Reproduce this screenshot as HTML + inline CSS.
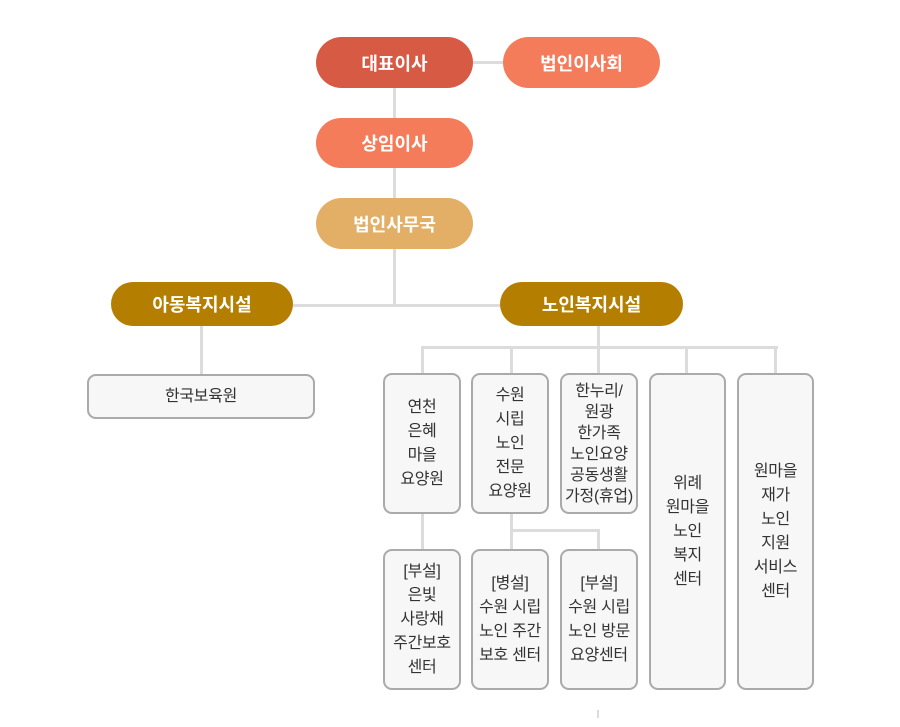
<!DOCTYPE html>
<html><head><meta charset="utf-8"><style>
*{margin:0;padding:0;box-sizing:border-box}
body{width:900px;height:727px;background:#fff;position:relative;overflow:hidden;font-family:"Liberation Sans","Noto Sans CJK KR",sans-serif}
.l{position:absolute;background:#dcdcdc}
.p{position:absolute;border-radius:26px;color:#fff;font-weight:bold;font-size:18px;display:flex;align-items:center;justify-content:center}
.b{position:absolute;background:#f7f7f7;border:2px solid #aaa;border-radius:9px;color:#333;font-size:16px;line-height:24px;text-align:center;display:flex;align-items:center;justify-content:center;letter-spacing:-0.3px}
</style></head><body>
<div class="l" style="left:393px;top:60px;width:3px;height:246px"></div>
<div class="l" style="left:470px;top:61px;width:36px;height:3px"></div>
<div class="l" style="left:290px;top:304px;width:212px;height:3px"></div>
<div class="l" style="left:200px;top:325px;width:3px;height:50px"></div>
<div class="l" style="left:597px;top:324px;width:3px;height:24px"></div>
<div class="l" style="left:421px;top:346px;width:357px;height:3px"></div>
<div class="l" style="left:421px;top:346px;width:3px;height:28px"></div>
<div class="l" style="left:510px;top:346px;width:3px;height:28px"></div>
<div class="l" style="left:597px;top:346px;width:3px;height:28px"></div>
<div class="l" style="left:685px;top:346px;width:3px;height:28px"></div>
<div class="l" style="left:774px;top:346px;width:3px;height:28px"></div>
<div class="l" style="left:421px;top:512px;width:3px;height:38px"></div>
<div class="l" style="left:510px;top:512px;width:3px;height:38px"></div>
<div class="l" style="left:510px;top:529px;width:90px;height:3px"></div>
<div class="l" style="left:597px;top:529px;width:3px;height:21px"></div>
<div class="l" style="left:597px;top:710px;width:2px;height:8px"></div>

<div class="p" style="left:316px;top:37px;width:157px;height:51px;background:#d65a44">대표이사</div>
<div class="p" style="left:503px;top:37px;width:157px;height:51px;background:#f47c5b">법인이사회</div>
<div class="p" style="left:316px;top:118px;width:157px;height:50px;background:#f47c5b">상임이사</div>
<div class="p" style="left:316px;top:198px;width:157px;height:51px;background:#e3af67">법인사무국</div>
<div class="p" style="left:111px;top:282px;width:182px;height:44px;background:#b47f00">아동복지시설</div>
<div class="p" style="left:500px;top:282px;width:183px;height:44px;background:#b47f00">노인복지시설</div>

<div class="b" style="left:87px;top:374px;width:228px;height:45px;font-size:16px">한국보육원</div>
<div class="b" style="left:383px;top:373px;width:78px;height:141px">연천<br>은혜<br>마을<br>요양원</div>
<div class="b" style="left:471px;top:373px;width:78px;height:141px">수원<br>시립<br>노인<br>전문<br>요양원</div>
<div class="b" style="left:560px;top:373px;width:78px;height:141px;line-height:21px">한누리/<br>원광<br>한가족<br>노인요양<br>공동생활<br>가정(휴업)</div>
<div class="b" style="left:649px;top:373px;width:77px;height:317px">위례<br>원마을<br>노인<br>복지<br>센터</div>
<div class="b" style="left:737px;top:373px;width:77px;height:317px">원마을<br>재가<br>노인<br>지원<br>서비스<br>센터</div>
<div class="b" style="left:383px;top:549px;width:78px;height:141px">[부설]<br>은빛<br>사랑채<br>주간보호<br>센터</div>
<div class="b" style="left:471px;top:549px;width:78px;height:141px">[병설]<br>수원 시립<br>노인 주간<br>보호 센터</div>
<div class="b" style="left:560px;top:549px;width:78px;height:141px">[부설]<br>수원 시립<br>노인 방문<br>요양센터</div>
</body></html>
